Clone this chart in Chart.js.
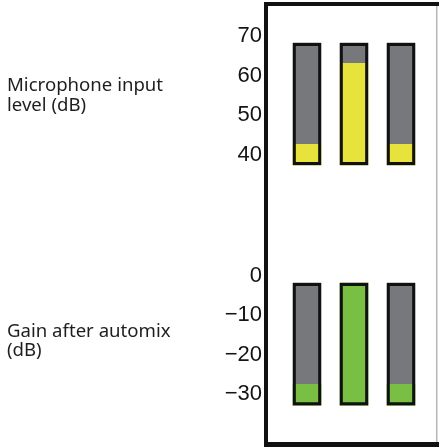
<!DOCTYPE html>
<html><head><meta charset="utf-8">
<script src="https://cdn.jsdelivr.net/npm/chart.js@4/dist/chart.umd.min.js"></script>
<style>html,body{margin:0;padding:0;background:#fff;}#wrap{position:relative;width:439px;height:447px;}canvas{display:block;}</style>
</head><body><div id="wrap"><canvas id="c" width="439" height="447"></canvas></div>
<script>
// ---- data ----
const channels = ['1', '2', '3'];
const micTicks = [70, 60, 50, 40];
const gainTicks = [0, -10, -20, -30];
const micMeterRange = [37.5, 68.2];      // extent of each input meter (dB)
const gainMeterRange = [-32.8, -1.9];    // extent of each gain meter (dB)
const micLevels = [42.7, 63.1, 42.7];    // microphone input level (dB)
const gainLevels = [-27.5, -1.9, -27.5]; // gain after automix (dB)
const micAxisRange = [22.7, 79.1];
const gainAxisRange = [-43.4, 13.2];
const micLabel = ['Microphone input', 'level (dB)'];
const gainLabel = ['Gain after automix', '(dB)'];

// ---- style ----
const GRAY = '#77787b', YELLOW = '#e7e23c', GREEN = '#78bf44', BLACK = '#111111';
const tickFont = {family: "'Liberation Sans', Arial, sans-serif", size: 22};

const fmt = v => v < 0 ? '\u2212' + Math.abs(v) : String(v);

function meterSets(range, levels, color, axis) {
  const full = channels.map(() => [range[0], range[1]]);
  const lvl = levels.map(v => [range[0], v]);
  return [
    {data: full, yAxisID: axis, backgroundColor: 'rgba(0,0,0,0)', borderColor: BLACK, borderWidth: 2.5, borderSkipped: false},
    {data: lvl, yAxisID: axis, backgroundColor: color, borderWidth: 0},
    {data: full, yAxisID: axis, backgroundColor: GRAY, borderWidth: 0}
  ];
}

function yScale(range, ticks, stackWeight) {
  return {
    type: 'linear', position: 'left', stack: 'meters', stackWeight: stackWeight,
    min: range[0], max: range[1],
    grid: {display: false, drawTicks: false}, border: {display: false},
    ticks: {font: tickFont, color: '#141414', padding: 21.5, autoSkip: false, callback: fmt},
    afterBuildTicks: s => { s.ticks = ticks.map(v => ({value: v})); },
    afterFit: s => { s.width = 283.5; s.paddingTop = 0; s.paddingBottom = 0; }
  };
}

const framePlugin = {
  id: 'frame',
  afterDraw(chart) {
    const ctx = chart.ctx, W = chart.width, H = chart.height;
    ctx.save();
    ctx.fillStyle = BLACK;
    ctx.fillRect(264, 2, 4, H - 2);
    ctx.fillRect(264, 2, W - 264, 4);
    ctx.fillRect(264, H - 5, W - 264, 5);
    ctx.fillStyle = '#b5b5b5';
    ctx.fillRect(436, 6, 1.5, H - 11);
    ctx.fillStyle = '#1e1e1e';
    ctx.font = "18.6px 'Noto Sans', sans-serif";
    ctx.textBaseline = 'alphabetic';
    ctx.textAlign = 'left';
    ctx.fillText(micLabel[0], 7, 90.7);
    ctx.fillText(micLabel[1], 7, 110.7);
    ctx.fillText(gainLabel[0], 7, 336.7);
    ctx.fillText(gainLabel[1], 7, 355.7);
    ctx.restore();
  }
};

const datasets = [
  ...meterSets(micMeterRange, micLevels, YELLOW, 'yTop'),
  ...meterSets(gainMeterRange, gainLevels, GREEN, 'yBot')
].map(d => Object.assign(d, {grouped: false, barThickness: 28}));

new Chart(document.getElementById('c'), {
  type: 'bar',
  data: {labels: channels, datasets},
  options: {
    responsive: false, animation: false, devicePixelRatio: 1,
    layout: {padding: {left: 0, right: 14.5, top: 0, bottom: 0}},
    plugins: {legend: {display: false}, tooltip: {enabled: false}},
    scales: {
      x: {type: 'category', display: false, offset: true},
      yBot: yScale(gainAxisRange, gainTicks, 1),
      yTop: yScale(micAxisRange, micTicks, 1)
    }
  },
  plugins: [framePlugin]
});
</script></body></html>
